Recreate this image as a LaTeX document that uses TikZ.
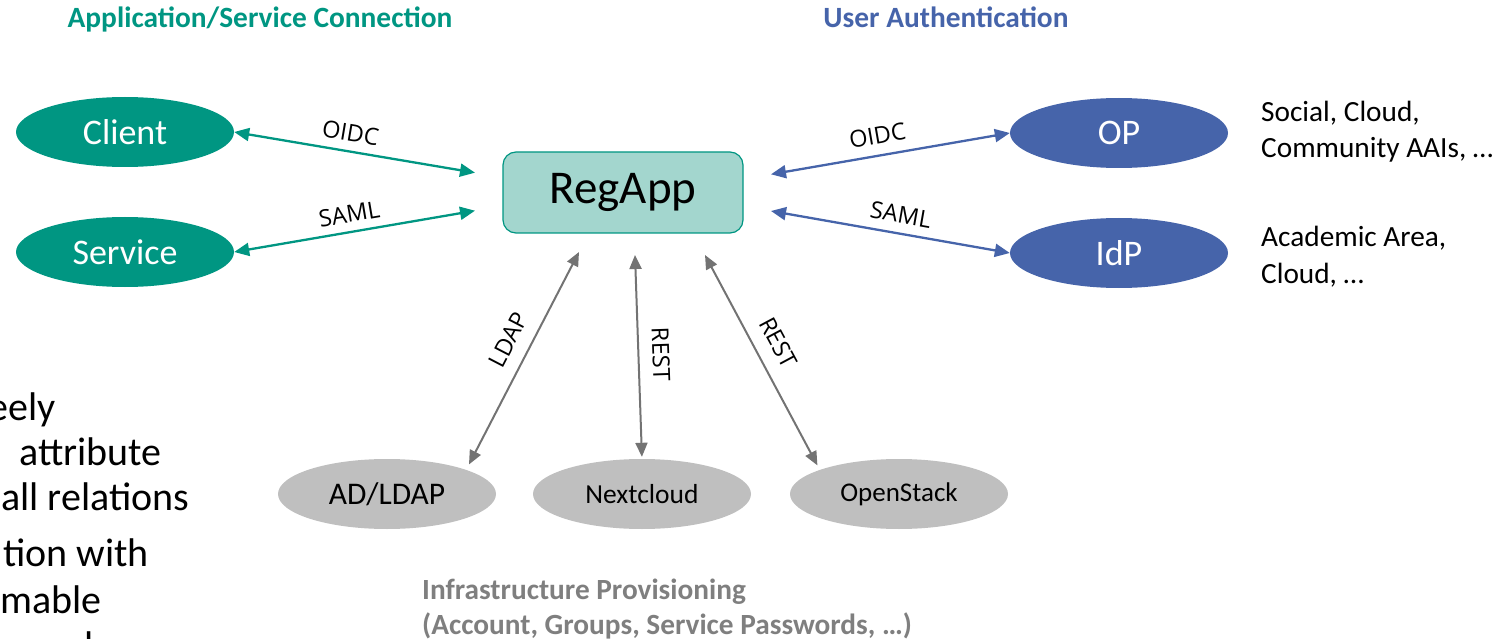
\documentclass[tikz,border=0pt]{standalone}
\usepackage{fontspec}
\setmainfont{Carlito}
\newfontfamily\labelfont{Open Sans}
\usetikzlibrary{shapes.geometric,arrows.meta,calc}

\definecolor{kitgreen}{RGB}{0,150,130}
\definecolor{kitgreenlight}{RGB}{163,214,206}
\definecolor{kitblue}{RGB}{70,100,170}
\definecolor{boxgray}{RGB}{191,191,191}
\definecolor{arrowgray}{RGB}{115,115,115}
\definecolor{notegray}{RGB}{127,127,127}

\begin{document}
\begin{tikzpicture}[x=1pt,y=-1pt,
  oval/.style={ellipse, minimum width=218pt, minimum height=70pt, inner sep=0pt},
  appoval/.style={oval, fill=kitgreen, text=white, font=\fontsize{36}{43}\selectfont},
  idoval/.style={oval, fill=kitblue, text=white, font=\fontsize{36}{43}\selectfont},
  infraoval/.style={oval, fill=boxgray, text=black},
  applink/.style={draw=kitgreen, line width=2.3pt, {Triangle[length=15pt,width=13pt]}-{Triangle[length=15pt,width=13pt]}},
  idlink/.style={draw=kitblue, line width=2.3pt, {Triangle[length=15pt,width=13pt]}-{Triangle[length=15pt,width=13pt]}},
  infralink/.style={draw=arrowgray, line width=2pt, {Triangle[length=14pt,width=12pt]}-{Triangle[length=14pt,width=12pt]}},
  lbl/.style={font=\labelfont\fontsize{23.5}{28}\selectfont, inner sep=0pt, sloped},
  heading/.style={font=\bfseries\fontsize{29.4}{34}\selectfont, anchor=base, inner sep=0pt},
  slidetext/.style={font=\fontsize{40}{48}\selectfont, anchor=base west, inner sep=0pt},
  sidenote/.style={font=\fontsize{29.3}{36}\selectfont, anchor=base west, inner sep=0pt},
]
\useasboundingbox (0,0) rectangle (1507,639);
\clip (0,0) rectangle (1507,639);

% headings
\node[heading, text=kitgreen] (hApp) at (260,28) {Application/Service Connection};
\node[heading, text=kitblue] (hUser) at (946,28) {User Authentication};

% central registration application
\node[draw=kitgreen, fill=kitgreenlight, rounded corners=13pt, line width=1.2pt,
      minimum width=240pt, minimum height=81pt, inner sep=0pt,
      font=\fontsize{47}{56}\selectfont] (regapp) at (623,192.5) {RegApp};

% applications / services
\node[appoval] (client) at (125,132) {Client};
\node[appoval] (service) at (125,252) {Service};

% identity providers
\node[idoval] (op) at (1119,133) {OP};
\node[idoval] (idp) at (1119,253) {IdP};
\node[sidenote] (opnote) at (1261,122)
  {\begin{tabular}[t]{@{}l@{}}Social, Cloud,\\Community AAIs, …\end{tabular}};
\node[sidenote] (idpnote) at (1261,247)
  {\begin{tabular}[t]{@{}l@{}}Academic Area,\\Cloud, …\end{tabular}};

% provisioned infrastructure
\node[infraoval, font=\fontsize{31.5}{38}\selectfont] (adldap) at (387,494) {AD/LDAP};
\node[infraoval, font=\fontsize{27.5}{33}\selectfont] (nextcloud) at (642,494) {Nextcloud};
\node[infraoval, font=\fontsize{27}{33}\selectfont] (openstack) at (899,494) {OpenStack};
\node[anchor=base west, inner sep=0pt, text=notegray, font=\bfseries\fontsize{29.3}{35}\selectfont] (infranote) at (422,599)
  {\begin{tabular}[t]{@{}l@{}}Infrastructure Provisioning\\(Account, Groups, Service Passwords, …)\end{tabular}};

% connector ends next to RegApp
\coordinate (rgL1) at (475,172.7);
\coordinate (rgL2) at (475,210.7);
\coordinate (rgR1) at (771,174.3);
\coordinate (rgR2) at (771,211);
\coordinate (rgB1) at (579,252);
\coordinate (rgB2) at (635,255);
\coordinate (rgB3) at (705,255);

% protocol connectors
\draw[applink] (client.east) -- node[lbl, above=9pt, pos=0.47] {OIDC} (rgL1);
\draw[applink] (service.east) -- node[lbl, above=8pt, pos=0.49] {SAML} (rgL2);
\draw[idlink] (rgR1) -- node[lbl, above=10pt, pos=0.46] {OIDC} (op.west);
\draw[idlink] (rgR2) -- node[lbl, above=9pt, pos=0.53] {SAML} (idp.west);
\draw[infralink, shorten >=6pt] (rgB1) -- node[lbl, above=13pt, pos=0.45] {LDAP} (adldap.17);
\draw[infralink, shorten >=2pt] (rgB2) -- node[lbl, above=13pt, pos=0.49] {REST} (nextcloud.north);
\draw[infralink, shorten >=5pt] (rgB3) -- node[lbl, above=14pt, pos=0.46] {REST} (openstack.163);

% slide text running in from the left edge
\node[slidetext] (s1) at (-12,420) {eely};
\node[slidetext] (s2) at (19,465) {attribute};
\node[slidetext] (s3) at (1,510) {all relations};
\node[slidetext] (s4) at (3,566) {tion with};
\node[slidetext] (s5) at (0,613) {mable};
\node[slidetext] (s6) at (84,659) {l};
\end{tikzpicture}
\end{document}
